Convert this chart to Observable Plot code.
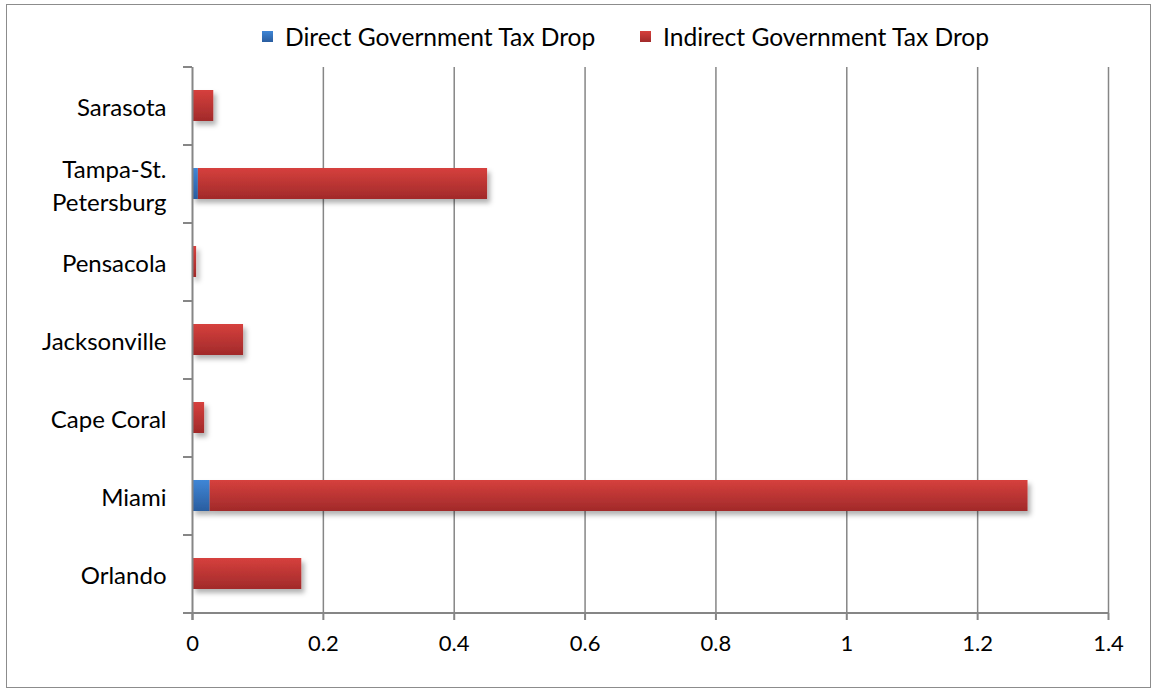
<!DOCTYPE html>
<html>
<head>
<meta charset="utf-8">
<script src="https://cdn.jsdelivr.net/npm/d3@7"></script>
<script src="https://cdn.jsdelivr.net/npm/@observablehq/plot@0.6"></script>
<style>
  html, body { margin: 0; padding: 0; background: #fff; }
  #wrap { position: relative; width: 1157px; height: 691px; overflow: hidden; font-family: Lato, sans-serif; }
  #border { position: absolute; left: 6px; top: 4px; width: 1143px; height: 682px; border: 1px solid #8c8c8c; }
  #legend { position: absolute; top: 19px; left: 0; width: 1157px; height: 34px; font-size: 24.6px; color: #000; }
  .item { position: absolute; top: 0; display: flex; align-items: center; height: 34px; white-space: nowrap; }
  .sw { width: 11px; height: 11px; margin-right: 12px; }
  #chart { position: absolute; left: 0; top: 50px; }
</style>
</head>
<body>
<div id="wrap">
  <div id="border"></div>
  <div id="legend"></div>
  <div id="chart"></div>
</div>
<script>
// ---- data ----
const cities = ["Orlando", "Miami", "Cape Coral", "Jacksonville", "Pensacola", "Tampa-St. Petersburg", "Sarasota"];
const directDrop = [0.001, 0.027, 0.0005, 0.001, 0.0003, 0.009, 0.0005];
const indirectDrop = [0.166, 1.250, 0.018, 0.077, 0.006, 0.442, 0.032];
const seriesNames = ["Direct Government Tax Drop", "Indirect Government Tax Drop"];
const xTicks = [0, 0.2, 0.4, 0.6, 0.8, 1, 1.2, 1.4];

const rows = [];
cities.forEach((c, i) => {
  rows.push({city: c, series: seriesNames[0], value: directDrop[i]});
  rows.push({city: c, series: seriesNames[1], value: indirectDrop[i]});
});
const yDomain = cities.slice().reverse(); // Sarasota at top

// ---- legend ----
const legendPos = [262, 640];
const legendCss = [
  "linear-gradient(#3f86d6, #2a5d9f)",
  "linear-gradient(#d6403d, #a12a2a)"
];
const leg = document.getElementById("legend");
seriesNames.forEach((s, i) => {
  const it = document.createElement("div");
  it.className = "item";
  it.style.left = legendPos[i] + "px";
  it.innerHTML = `<div class="sw" style="background:${legendCss[i]}"></div><span>${s}</span>`;
  leg.appendChild(it);
});

// ---- chart ----
const chart = Plot.plot({
  width: 1157,
  height: 630,
  marginLeft: 192,
  marginRight: 49,
  marginTop: 17,
  marginBottom: 67,
  style: {fontFamily: "Lato, sans-serif", fontSize: "22px", color: "#000", background: "transparent"},
  x: {domain: [0, 1.4]},
  y: {domain: yDomain, paddingInner: 0.6, paddingOuter: 0.3},
  color: {domain: seriesNames, range: ["url(#gBlue)", "url(#gRed)"]},
  marks: [
    // vertical gridlines
    Plot.ruleX(xTicks.filter(d => d > 0), {stroke: "#868686", strokeWidth: 1.5}),
    // y boundary ticks
    Plot.ruleY(yDomain, {y: d => d, dy: 39, x1: 0, x2: 0, insetLeft: -9, stroke: "#868686", strokeWidth: 2}),
    Plot.ruleY([yDomain[0]], {y: d => d, dy: -39, x1: 0, x2: 0, insetLeft: -9, stroke: "#868686", strokeWidth: 2}),
    // bars
    Plot.barX(rows, {x: "value", y: "city", fill: "series", order: seriesNames, className: "bars"}),
    // axes
    Plot.axisX({ticks: xTicks, tickSize: 7, tickPadding: 15, stroke: "#868686", strokeWidth: 2, fontSize: 22, label: null, tickFormat: d => String(d)}),
    Plot.ruleY([0], {y: () => yDomain[yDomain.length - 1], dy: 39, x1: 0, x2: 1.4, insetLeft: -9, stroke: "#868686", strokeWidth: 2}),
    Plot.ruleX([0], {stroke: "#868686", strokeWidth: 2, insetBottom: -7}),
    Plot.axisY({tickSize: 0, tickPadding: 26, fontSize: 24, lineHeight: 1.35, label: null,
      tickFormat: d => d.replace(". ", ".\n")})
  ]
});

// gradients and shadow
const ns = "http://www.w3.org/2000/svg";
const defs = document.createElementNS(ns, "defs");
defs.innerHTML = `
  <linearGradient id="gBlue" x1="0" y1="0" x2="0" y2="1">
    <stop offset="0" stop-color="#3f86d6"/><stop offset="1" stop-color="#2a5d9f"/>
  </linearGradient>
  <linearGradient id="gRed" x1="0" y1="0" x2="0" y2="1">
    <stop offset="0" stop-color="#d6403d"/><stop offset="1" stop-color="#a12a2a"/>
  </linearGradient>
  <filter id="shadow" x="-10%" y="-30%" width="130%" height="190%">
    <feDropShadow dx="3" dy="4" stdDeviation="2.5" flood-color="#000" flood-opacity="0.3"/>
  </filter>`;
chart.insertBefore(defs, chart.firstChild);
const bars = chart.querySelector(".bars");
if (bars) bars.setAttribute("filter", "url(#shadow)");

document.getElementById("chart").appendChild(chart);
</script>
</body>
</html>
